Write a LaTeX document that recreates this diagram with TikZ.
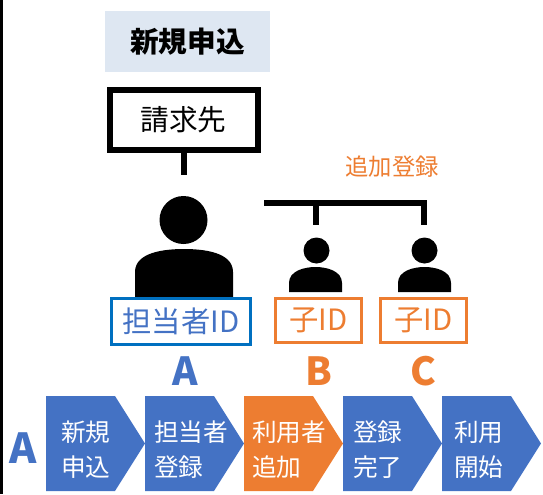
\documentclass[tikz,border=0pt]{standalone}
\usepackage{fontspec}
\setmainfont{Noto Sans CJK JP}
\definecolor{cblue}{HTML}{4472C4}
\definecolor{corange}{HTML}{ED7D31}
\definecolor{ctitle}{HTML}{DEE7F2}
\definecolor{cidblue}{HTML}{0070C0}
\tikzset{
  thickline/.style={line width=4.5pt, draw=black},
  idbox/.style={draw, line width=2.25pt, inner sep=0pt, minimum height=34pt,
    font=\fontsize{22pt}{24pt}\selectfont},
  chev/.style={fill=#1},
  chevtext/.style={text=white, anchor=west, inner sep=0pt, align=left,
    font=\fontsize{18.5pt}{26.25pt}\selectfont},
  bigletter/.style={inner sep=0pt, font=\fontsize{29pt}{30pt}\selectfont\bfseries},
  person/.style={fill=black}
}
\begin{document}
\begin{tikzpicture}[x=0.75pt,y=-0.75pt]
\useasboundingbox (0,0) rectangle (543,494);
% left bar
\fill[black] (0,0) rectangle (3,494);
% title
\node[fill=ctitle, minimum width=123.75pt, minimum height=45.75pt, inner sep=0pt,
  font=\fontsize{21.5pt}{24pt}\selectfont\bfseries] (title) at (187.5,41.5) {新規申込};
% billing box
\node[draw, line width=4.5pt, minimum width=111pt, minimum height=45pt, inner sep=0pt,
  font=\fontsize{21.5pt}{24pt}\selectfont] (req) at (183.5,119.5) {請求先};
\coordinate (stubend) at (183.5,175);
\draw[thickline] (req.south) -- (stubend);
% big person
\fill[person] (183.5,220) circle[radius=24];
\fill[person] (135,297) -- (135,272) .. controls (135,252) and (165,249) .. (184,249)
  .. controls (203,249) and (233,252) .. (233,272) -- (233,297) -- cycle;
% small persons
\fill[person] (316.5,250.5) circle[radius=13];
\fill[person] (289,292) -- (289,283) .. controls (289,271) and (304,267) .. (315.5,267)
  .. controls (327,267) and (342,271) .. (342,283) -- (342,292) -- cycle;
\fill[person] (424.5,250.5) circle[radius=13];
\fill[person] (398,292) -- (398,283) .. controls (398,271) and (413,267) .. (424.5,267)
  .. controls (436,267) and (451,271) .. (451,283) -- (451,292) -- cycle;
% bracket
\coordinate (brL) at (264,203);
\coordinate (brM) at (316,203);
\coordinate (brMe) at (316,225);
\coordinate (brRe) at (424,225);
\draw[thickline, line join=miter] (brL) -| (brRe);
\draw[thickline] (brM) -- (brMe);
\node[text=corange, inner sep=0pt, font=\fontsize{17.5pt}{19pt}\selectfont] (add) at (392,167) {追加登録};
% ID boxes
\node[idbox, draw=cidblue, text=cblue, minimum width=104.25pt, minimum height=34.5pt] (idA) at (181,321.5) {担当者ID};
\node[idbox, draw=corange, text=corange, minimum width=64.5pt, minimum height=33pt] (idB) at (318.5,320.5) {子ID};
\node[idbox, draw=corange, text=corange, minimum width=64.5pt, minimum height=33pt] (idC) at (423.5,320.5) {子ID};
% letters
\node[bigletter, text=cblue] (lA) at (185,371) {A};
\node[bigletter, text=corange] (lB) at (318.5,371) {B};
\node[bigletter, text=corange] (lC) at (423.5,371) {C};
\node[inner sep=0pt, text=cblue, font=\fontsize{31pt}{32pt}\selectfont\bfseries] (rowA) at (23,448) {A};
% chevrons
\foreach \L/\c in {46/cblue,145/cblue,244/corange,343/cblue,442/cblue}{
  \fill[chev=\c] (\L,396) -- (\L+69,396) -- (\L+99,443.5) -- (\L+69,491) -- (\L,491) -- cycle;
}
\node[chevtext] (s1) at (61,450) {新規\\申込};
\node[chevtext] (s2) at (154,450) {担当者\\登録};
\node[chevtext] (s3) at (252,450) {利用者\\追加};
\node[chevtext] (s4) at (353,450) {登録\\完了};
\node[chevtext] (s5) at (454,450) {利用\\開始};
\end{tikzpicture}
\end{document}
